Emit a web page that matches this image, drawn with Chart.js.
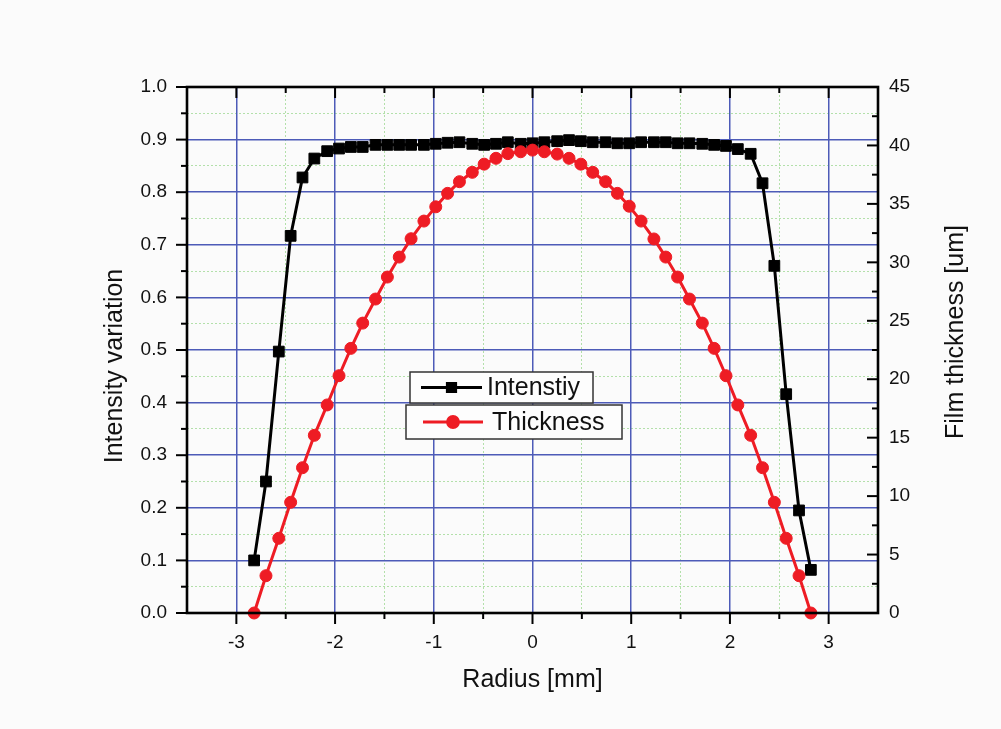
<!DOCTYPE html>
<html>
<head>
<meta charset="utf-8">
<title>Intensity and film thickness vs radius</title>
<script src="https://cdn.jsdelivr.net/npm/chart.js@4/dist/chart.umd.min.js"></script>
<style>
  html, body { margin: 0; padding: 0; background: #fbfbfb; }
  canvas { display: block; }
</style>
</head>
<body>
<canvas id="chart" width="1001" height="729"></canvas>
<script>
// Radial profile: measured intensity variation and film thickness
const radius = [
  -2.82, -2.70, -2.57, -2.45, -2.33, -2.21, -2.08, -1.96, -1.84, -1.72, -1.59, -1.47,
  -1.35, -1.23, -1.10, -0.98, -0.86, -0.74, -0.61, -0.49, -0.37, -0.25, -0.12, 0,
  0.12, 0.25, 0.37, 0.49, 0.61, 0.74, 0.86, 0.98, 1.10, 1.23, 1.35, 1.47,
  1.59, 1.72, 1.84, 1.96, 2.08, 2.21, 2.33, 2.45, 2.57, 2.70, 2.82
];
const intensity = [
  0.100, 0.250, 0.497, 0.717, 0.828, 0.864, 0.878, 0.883, 0.886, 0.886, 0.890, 0.890,
  0.890, 0.890, 0.890, 0.892, 0.894, 0.895, 0.892, 0.890, 0.892, 0.895, 0.892, 0.893,
  0.895, 0.897, 0.899, 0.897, 0.895, 0.895, 0.893, 0.893, 0.895, 0.895, 0.895, 0.893,
  0.893, 0.892, 0.890, 0.888, 0.882, 0.873, 0.817, 0.660, 0.416, 0.195, 0.082
];
const thickness = [
  0, 3.19, 6.39, 9.47, 12.43, 15.2, 17.8, 20.3, 22.64, 24.8, 26.86, 28.74,
  30.45, 32.02, 33.53, 34.75, 35.9, 36.9, 37.7, 38.4, 38.9, 39.3, 39.46, 39.6,
  39.46, 39.26, 38.9, 38.4, 37.7, 36.9, 35.9, 34.8, 33.53, 32.0, 30.45, 28.74,
  26.86, 24.8, 22.64, 20.3, 17.8, 15.2, 12.43, 9.47, 6.39, 3.19, 0
];

// Axis ticks
const xTicks = [-3, -2, -1, 0, 1, 2, 3];
const xMinorTicks = [-2.5, -1.5, -0.5, 0.5, 1.5, 2.5];
const yTicks = [0, 0.1, 0.2, 0.3, 0.4, 0.5, 0.6, 0.7, 0.8, 0.9, 1.0];
const yMinorTicks = [0.05, 0.15, 0.25, 0.35, 0.45, 0.55, 0.65, 0.75, 0.85, 0.95];
const thickTicks = [0, 5, 10, 15, 20, 25, 30, 35, 40, 45];
const thickMinorTicks = [2.5, 7.5, 12.5, 17.5, 22.5, 27.5, 32.5, 37.5, 42.5];

const seriesNames = ['Intenstiy', 'Thickness'];
const xTitle = 'Radius [mm]';
const yTitle = 'Intensity variation';
const y2Title = 'Film thickness [um]';

const FONT = '"Liberation Sans", Arial, Helvetica, sans-serif';
const MAJOR_GRID = '#4d5bb8';
const MINOR_GRID = '#b3e0aa';
const RED = '#ee1c24';

function setTicks(values) {
  return (scale) => { scale.ticks = values.map(v => ({ value: v })); };
}
function fixWidth(w) { return (scale) => { scale.width = w; }; }
function fixHeight(h) { return (scale) => { scale.height = h; }; }

function seg(ctx, x1, y1, x2, y2) {
  ctx.beginPath();
  ctx.moveTo(x1, y1);
  ctx.lineTo(x2, y2);
  ctx.stroke();
}

// Frame, tick marks, axis titles and the boxed legend
const framePlugin = {
  id: 'frame',
  afterDatasetsDraw(chart) {
    const { ctx, chartArea: a, scales: s } = chart;
    ctx.save();
    ctx.strokeStyle = '#000';
    ctx.lineWidth = 2;
    const MAJ = 11, MIN = 6;
    xTicks.forEach(v => {
      const p = s.x.getPixelForValue(v);
      seg(ctx, p, a.bottom, p, a.bottom + MAJ);
      seg(ctx, p, a.top, p, a.top + MAJ);
    });
    xMinorTicks.forEach(v => {
      const p = s.x.getPixelForValue(v);
      seg(ctx, p, a.bottom, p, a.bottom + MIN);
      seg(ctx, p, a.top, p, a.top + MIN);
    });
    yTicks.forEach(v => {
      const p = s.y.getPixelForValue(v);
      seg(ctx, a.left - MAJ, p, a.left, p);
    });
    yMinorTicks.forEach(v => {
      const p = s.y.getPixelForValue(v);
      seg(ctx, a.left - MIN, p, a.left, p);
    });
    thickTicks.forEach(v => {
      const p = s.y2.getPixelForValue(v);
      seg(ctx, a.right - MAJ, p, a.right, p);
    });
    thickMinorTicks.forEach(v => {
      const p = s.y2.getPixelForValue(v);
      seg(ctx, a.right - MIN, p, a.right, p);
    });
    ctx.lineWidth = 2.6;
    ctx.strokeRect(a.left, a.top, a.right - a.left, a.bottom - a.top);
    ctx.restore();
  },
  afterDraw(chart) {
    const { ctx, chartArea: a } = chart;
    ctx.save();
    ctx.fillStyle = '#111';
    ctx.font = '25px ' + FONT;
    ctx.textAlign = 'center';
    ctx.textBaseline = 'middle';
    ctx.fillText(xTitle, (a.left + a.right) / 2, 680);

    ctx.save();
    ctx.translate(115, 366);
    ctx.rotate(-Math.PI / 2);
    ctx.fillText(yTitle, 0, 0);
    ctx.restore();

    ctx.save();
    ctx.translate(956, 332);
    ctx.rotate(-Math.PI / 2);
    ctx.fillText(y2Title, 0, 0);
    ctx.restore();

    // legend boxes
    const boxes = [
      { ds: chart.data.datasets[1], x: 410, y: 372, w: 183, h: 31, l1: 421, l2: 482, tx: 487, base: 395, r: 5.8 },
      { ds: chart.data.datasets[0], x: 406, y: 405, w: 216, h: 34, l1: 423, l2: 483, tx: 492, base: 430, r: 5.4 }
    ];
    boxes.forEach(b => {
      ctx.fillStyle = '#fdfdfd';
      ctx.fillRect(b.x, b.y, b.w, b.h);
      ctx.strokeStyle = '#333';
      ctx.lineWidth = 1.5;
      ctx.strokeRect(b.x, b.y, b.w, b.h);
      const cy = b.y + b.h / 2;
      ctx.strokeStyle = b.ds.borderColor;
      ctx.lineWidth = b.ds.borderWidth;
      seg(ctx, b.l1, cy, b.l2, cy);
      ctx.fillStyle = b.ds.backgroundColor;
      ctx.strokeStyle = b.ds.borderColor;
      Chart.helpers.drawPoint(ctx, { pointStyle: b.ds.pointStyle, radius: b.r, borderWidth: 1, rotation: 0 }, (b.l1 + b.l2) / 2, cy);
      ctx.fillStyle = '#111';
      ctx.font = '25px ' + FONT;
      ctx.textAlign = 'left';
      ctx.textBaseline = 'alphabetic';
      ctx.fillText(b.ds.label, b.tx, b.base);
    });
    ctx.restore();
  }
};

const tickFont = { family: FONT, size: 19 };

new Chart(document.getElementById('chart'), {
  type: 'scatter',
  data: {
    datasets: [
      {
        label: seriesNames[1],
        data: radius.map((r, i) => ({ x: r, y: thickness[i] })),
        yAxisID: 'y2',
        showLine: true,
        borderColor: RED,
        backgroundColor: RED,
        borderWidth: 3,
        pointStyle: 'circle',
        pointRadius: 6,
        pointBorderWidth: 1,
        tension: 0,
        clip: false,
        order: 0
      },
      {
        label: seriesNames[0],
        data: radius.map((r, i) => ({ x: r, y: intensity[i] })),
        yAxisID: 'y',
        showLine: true,
        borderColor: '#000',
        backgroundColor: '#000',
        borderWidth: 3,
        pointStyle: 'rect',
        pointRadius: 7.6,
        pointBorderWidth: 1,
        tension: 0,
        clip: false,
        order: 1
      }
    ]
  },
  options: {
    responsive: false,
    animation: false,
    events: [],
    layout: { padding: { top: 87, left: 0, right: 0, bottom: 0 } },
    plugins: { legend: { display: false }, tooltip: { enabled: false } },
    scales: {
      xMinor: {
        type: 'linear', position: 'bottom', min: -3.5, max: 3.5,
        afterBuildTicks: setTicks(xMinorTicks),
        afterFit: fixHeight(0),
        ticks: { display: false },
        border: { display: false, dash: [2, 2] },
        grid: { color: MINOR_GRID, lineWidth: 1, drawTicks: false }
      },
      yMinor: {
        type: 'linear', position: 'left', min: 0, max: 1,
        afterBuildTicks: setTicks(yMinorTicks),
        afterFit: fixWidth(0),
        ticks: { display: false },
        border: { display: false, dash: [2, 2] },
        grid: { color: MINOR_GRID, lineWidth: 1, drawTicks: false }
      },
      x: {
        type: 'linear', position: 'bottom', min: -3.5, max: 3.5,
        afterBuildTicks: setTicks(xTicks),
        afterFit: fixHeight(116),
        ticks: { color: '#111', font: tickFont, padding: 18, callback: v => String(v) },
        border: { display: false },
        grid: { color: MAJOR_GRID, lineWidth: 1.5, drawTicks: false }
      },
      y: {
        type: 'linear', position: 'left', min: 0, max: 1,
        afterBuildTicks: setTicks(yTicks),
        afterFit: fixWidth(187),
        ticks: { color: '#111', font: tickFont, padding: 20, callback: v => v.toFixed(1) },
        border: { display: false },
        grid: { color: MAJOR_GRID, lineWidth: 1.5, drawTicks: false }
      },
      y2: {
        type: 'linear', position: 'right', min: 0, max: 45,
        afterBuildTicks: setTicks(thickTicks),
        afterFit: fixWidth(123),
        ticks: { color: '#111', font: tickFont, padding: 11, callback: v => String(v) },
        border: { display: false },
        grid: { drawOnChartArea: false, drawTicks: false }
      }
    }
  },
  plugins: [framePlugin]
});
</script>
</body>
</html>
